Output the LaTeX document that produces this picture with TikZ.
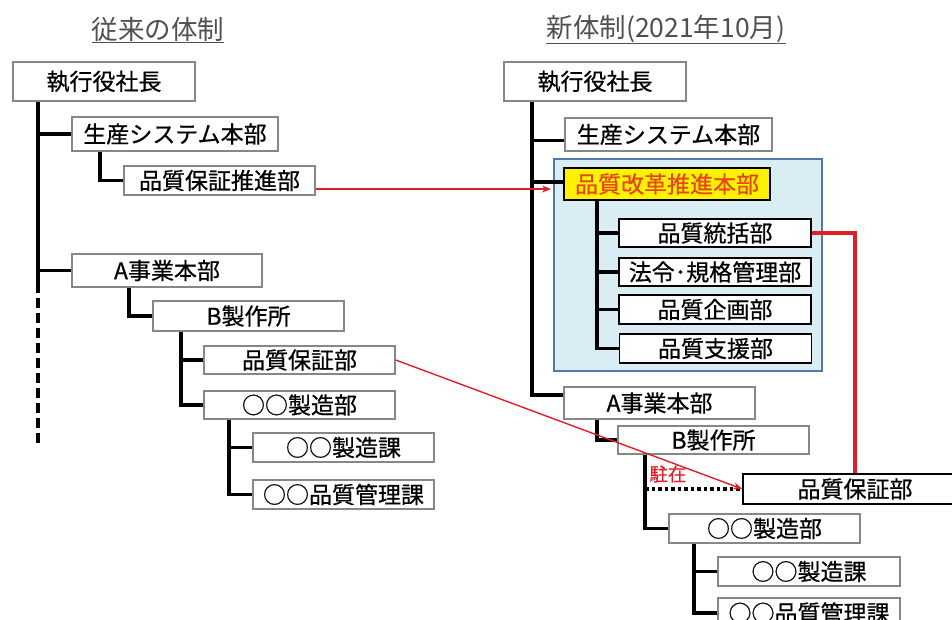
\documentclass[tikz,border=0pt]{standalone}
\usepackage{fontspec}
\setmainfont{Noto Sans CJK JP}
\newfontfamily\bxfont{Noto Sans CJK JP}[FakeBold=0.6]
\usetikzlibrary{arrows.meta,calc}
\definecolor{bxgray}{RGB}{135,135,135}
\definecolor{blfill}{RGB}{218,236,244}
\definecolor{bldraw}{RGB}{84,120,170}
\definecolor{arred}{RGB}{225,30,40}
\definecolor{ttxt}{RGB}{230,70,20}
\definecolor{titlegray}{RGB}{80,80,80}
\begin{document}
\begin{tikzpicture}[x=1pt,y=-1pt,
  box/.style={draw=bxgray, line width=1.4pt, fill=white, inner sep=0pt,
    font=\bxfont\fontsize{23}{24}\selectfont},
  bbox/.style={box, draw=black},
  hbox/.style={draw=black, line width=1.6pt, fill=yellow, inner sep=0pt,
    text=ttxt, font=\bxfont\fontsize{23}{24}\selectfont},
  bluebox/.style={draw=bldraw, line width=2pt, fill=blfill, inner sep=0pt},
  ttl/.style={inner sep=0pt, text=titlegray, font=\fontsize{26.5}{27}\selectfont},
  conn/.style={line width=3.6pt, line join=miter},
  redthin/.style={draw=arred, line width=1.4pt, -{Stealth[length=9pt,width=7pt]}},
  redthick/.style={draw=arred, line width=3.4pt, line join=miter}
]
\useasboundingbox (0,0) rectangle (952,619);

% titles
\node[ttl] (T1) at (158,29) {従来の体制};
\draw[titlegray, line width=1pt] ([yshift=-1pt]T1.south west) -- ([yshift=-1pt]T1.south east);
\node[ttl] (T2) at (666,29) {新体制(2021年10月)};
\draw[titlegray, line width=1pt] ([yshift=-1pt]T2.south west) -- ([yshift=-1pt]T2.south east);

% ---------- left (old) ----------
\node[box, minimum width=182, minimum height=39] (L0) at (104,81.5) {執行役社長};
\node[box, minimum width=206, minimum height=34] (L1) at (175,134) {生産システム本部};
\node[box, minimum width=191, minimum height=29] (L2) at (219.5,180.5) {品質保証推進部};
\node[box, minimum width=190, minimum height=33] (L3) at (167,270.5) {A事業本部};
\node[box, minimum width=191, minimum height=30] (L4) at (248.5,316) {B製作所};
\node[box, minimum width=191, minimum height=28] (L5) at (299.5,360) {品質保証部};
\node[box, minimum width=191, minimum height=28] (L6) at (299.5,405) {○○製造部};
\node[box, minimum width=181, minimum height=29] (L7) at (343.5,447.5) {○○製造課};
\node[box, minimum width=181, minimum height=29] (L8) at (343.5,494.5) {○○品質管理課};

\coordinate (lt) at (38,0);
\coordinate (ldash) at (38,283);
\coordinate (lend) at (38,443);
\coordinate (l100) at (100,0);
\coordinate (l129) at (129,0);
\coordinate (l181) at (181,0);
\coordinate (l229) at (229,0);

\draw[conn] (L0.south -| lt) -- (ldash);
\draw[conn, dash pattern=on 10pt off 5pt] (ldash) -- (lend);
\draw[conn] (lt |- L1.west) -- (L1.west);
\draw[conn] (lt |- L3.west) -- (L3.west);
\draw[conn] (L1.south -| l100) |- (L2.west);
\draw[conn] (L3.south -| l129) |- (L4.west);
\draw[conn] (L4.south -| l181) |- (L6.west);
\draw[conn] (l181 |- L5.west) -- (L5.west);
\draw[conn] (L6.south -| l229) |- (L8.west);
\draw[conn] (l229 |- L7.west) -- (L7.west);

% ---------- right (new) ----------
\node[bluebox, minimum width=268, minimum height=212] (BB) at (688,265) {};
\node[box, minimum width=182, minimum height=39] (R0) at (595,81.5) {執行役社長};
\node[box, minimum width=207, minimum height=33] (R1) at (668.5,134.5) {生産システム本部};
\node[hbox, minimum width=206, minimum height=32] (R2) at (667,184) {品質改革推進本部};
\node[bbox, minimum width=192, minimum height=28] (R3) at (715,233) {品質統括部};
\node[bbox, minimum width=192, minimum height=28] (R4) at (715,272) {法令･規格管理部};
\node[bbox, minimum width=192, minimum height=29] (R5) at (715,309.5) {品質企画部};
\node[bbox, minimum width=192, minimum height=29] (R6) at (715.5,348.5) {品質支援部};
\node[box, minimum width=191, minimum height=32] (R7) at (659.5,403) {A事業本部};
\node[box, minimum width=191, minimum height=28] (R8) at (713.5,440) {B製作所};
\node[bbox, minimum width=224, minimum height=30] (R9) at (855,489) {品質保証部};
\node[box, minimum width=191, minimum height=29] (R10) at (764.5,528.5) {○○製造部};
\node[box, minimum width=182, minimum height=29] (R11) at (809,571.5) {○○製造課};
\node[box, minimum width=182, minimum height=30] (R12) at (809,613) {○○品質管理課};

\coordinate (rt) at (532,0);
\coordinate (r597) at (597,0);
\coordinate (r645) at (645,0);
\coordinate (r694) at (694,0);

\draw[conn] (R0.south -| rt) |- ([yshift=8pt]R7.west);
\draw[conn] ([yshift=-6pt]rt |- R1.west) -- ([yshift=-6pt]R1.west);
\draw[conn] ([yshift=2pt]rt |- R2.west) -- ([yshift=2pt]R2.west);
\draw[conn] (R2.south -| r597) |- (R6.west);
\draw[conn] (r597 |- R3.west) -- (R3.west);
\draw[conn] (r597 |- R4.west) -- (R4.west);
\draw[conn] (r597 |- R5.west) -- (R5.west);
\draw[conn] (R7.south -| r597) |- (R8.west);
\draw[conn] (R8.south -| r645) |- (R10.west);
\draw[conn, line width=3.2pt, dash pattern=on 3.5pt off 3pt] (r645 |- R9.west) -- (R9.west);
\draw[conn] (R10.south -| r694) |- (R12.west);
\draw[conn] (r694 |- R11.west) -- (R11.west);

\node[text=arred, inner sep=0pt, font=\bxfont\fontsize{18.5}{19}\selectfont] (stay) at (668,474) {駐在};

% ---------- red connectors ----------
\coordinate (ra) at ([yshift=-8.5pt]L2.east);
\draw[redthin, shorten >=2pt] (ra) -- (ra -| BB.west);
\draw[redthin] (L5.east) -- (R9.west);
\draw[redthick] (R3.east) -| (R9.north);
\end{tikzpicture}
\end{document}
